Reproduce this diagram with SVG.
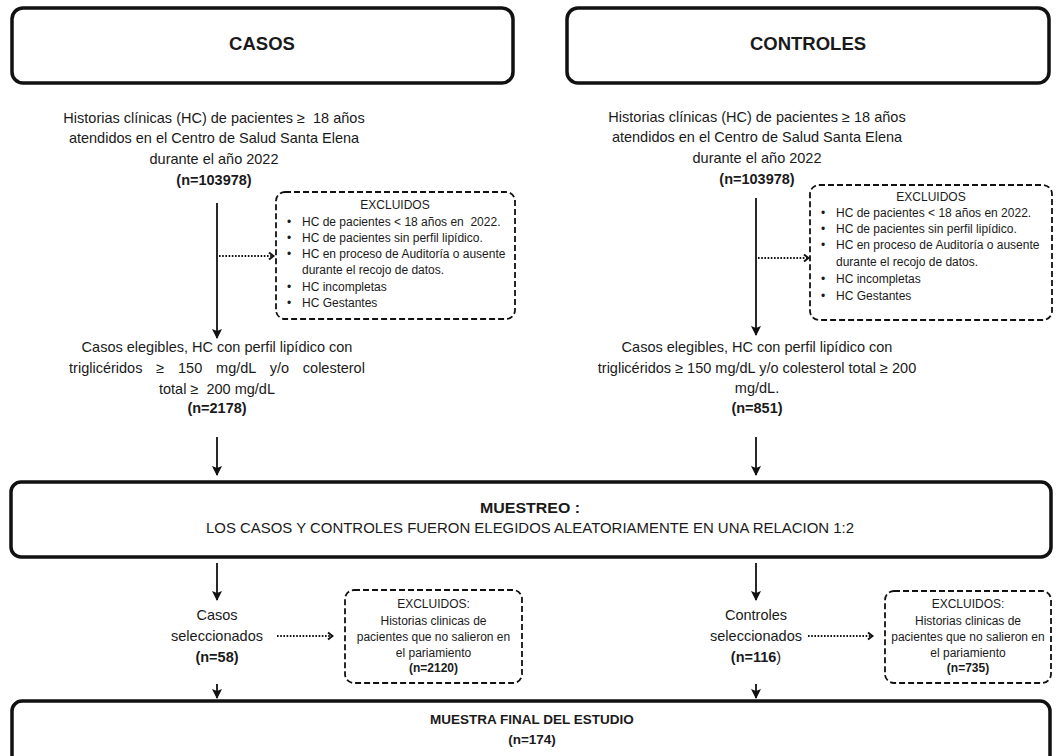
<svg xmlns="http://www.w3.org/2000/svg" width="1058" height="756" viewBox="0 0 1058 756">
<defs>
<style>
.t{font-family:"Liberation Sans",Arial,sans-serif;fill:#1a1a1a}
.m{font-size:14.5px;text-anchor:middle}
.b{font-weight:bold}
.s{font-size:12px}
.c{text-anchor:middle}
.box{fill:#fff;stroke:#111;stroke-width:3.5}
.dash{fill:#fff;stroke:#111;stroke-width:1.8;stroke-dasharray:6 3}
.ar{stroke:#111;stroke-width:1.8;fill:none}
.dot{stroke:#111;stroke-width:2;stroke-dasharray:1.6 1.6;fill:none}
</style>
<marker id="ah" markerUnits="userSpaceOnUse" markerWidth="10" markerHeight="12" viewBox="0 0 10 12" refX="9" refY="6" orient="auto">
<path d="M0,1 L10,6 L0,11 L2,6 z" fill="#111"/>
</marker>
<marker id="oh" markerUnits="userSpaceOnUse" markerWidth="8" markerHeight="10" viewBox="0 0 8 10" refX="7" refY="5" orient="auto">
<path d="M2,1.5 L6.5,5 L2,8.5" fill="none" stroke="#111" stroke-width="2"/>
</marker>
</defs>
<rect width="1058" height="756" fill="#fff"/>

<g id="connectors">
<line class="ar" x1="217" y1="203" x2="217" y2="338" marker-end="url(#ah)"/>
<line class="dot" x1="219" y1="256" x2="274" y2="256" marker-end="url(#oh)"/>
<line class="ar" x1="756" y1="198" x2="756" y2="335" marker-end="url(#ah)"/>
<line class="dot" x1="758" y1="258" x2="809" y2="258" marker-end="url(#oh)"/>
<line class="ar" x1="217" y1="437" x2="217" y2="475" marker-end="url(#ah)"/>
<line class="ar" x1="756" y1="437" x2="756" y2="475" marker-end="url(#ah)"/>
<line class="ar" x1="217" y1="563" x2="217" y2="600" marker-end="url(#ah)"/>
<line class="dot" x1="277" y1="636" x2="333" y2="636" marker-end="url(#oh)"/>
<line class="ar" x1="217" y1="684" x2="217" y2="698" marker-end="url(#ah)"/>
<line class="ar" x1="756" y1="563" x2="756" y2="600" marker-end="url(#ah)"/>
<line class="dot" x1="808" y1="636" x2="873" y2="636" marker-end="url(#oh)"/>
<line class="ar" x1="756" y1="684" x2="756" y2="698" marker-end="url(#ah)"/>
</g>

<g id="casos">
<rect class="box" x="12" y="8" width="501" height="75" rx="11"/>
<text class="t b c" x="262" y="50" font-size="18.5">CASOS</text>
</g>

<g id="controles">
<rect class="box" x="567" y="8" width="482" height="75" rx="11"/>
<text class="t b c" x="808" y="50" font-size="18.5">CONTROLES</text>
</g>

<g id="hc-casos">
<text class="t m" x="214" y="123" xml:space="preserve">Historias clínicas (HC) de pacientes ≥  18 años</text>
<text class="t m" x="214" y="143">atendidos en el Centro de Salud Santa Elena</text>
<text class="t m" x="214" y="164">durante el año 2022</text>
<text class="t m b" x="214" y="185">(n=103978)</text>
</g>

<g id="hc-controles">
<text class="t m" x="757" y="122">Historias clínicas (HC) de pacientes ≥ 18 años</text>
<text class="t m" x="757" y="142">atendidos en el Centro de Salud Santa Elena</text>
<text class="t m" x="757" y="163">durante el año 2022</text>
<text class="t m b" x="757" y="184">(n=103978)</text>
</g>

<g id="excl-casos">
<rect class="dash" x="276" y="192" width="239" height="127" rx="9"/>
<text class="t s c" x="395" y="209">EXCLUIDOS</text>
<g class="t s">
<text x="287" y="226">•</text><text x="302" y="226" xml:space="preserve">HC de pacientes &lt; 18 años en  2022.</text>
<text x="287" y="242">•</text><text x="302" y="242">HC de pacientes sin perfil lipídico.</text>
<text x="287" y="258">•</text><text x="302" y="258">HC en proceso de Auditoría o ausente</text>
<text x="302" y="274">durante el recojo de datos.</text>
<text x="287" y="291">•</text><text x="302" y="291">HC incompletas</text>
<text x="287" y="307">•</text><text x="302" y="307">HC Gestantes</text>
</g>
</g>

<g id="excl-controles">
<rect class="dash" x="810" y="185" width="242" height="135" rx="9"/>
<text class="t s c" x="931" y="201">EXCLUIDOS</text>
<g class="t s">
<text x="821" y="217">•</text><text x="836" y="217">HC de pacientes &lt; 18 años en 2022.</text>
<text x="821" y="233">•</text><text x="836" y="233">HC de pacientes sin perfil lipídico.</text>
<text x="821" y="249">•</text><text x="836" y="249">HC en proceso de Auditoría o ausente</text>
<text x="836" y="266">durante el recojo de datos.</text>
<text x="821" y="283">•</text><text x="836" y="283">HC incompletas</text>
<text x="821" y="300">•</text><text x="836" y="300">HC Gestantes</text>
</g>
</g>

<g id="elegibles-casos">
<text class="t m" x="217" y="352">Casos elegibles, HC con perfil lipídico con</text>
<text class="t m" x="217" y="373" word-spacing="9.8">triglicéridos ≥ 150 mg/dL y/o colesterol</text>
<text class="t m" x="217" y="394" xml:space="preserve">total ≥  200 mg/dL</text>
<text class="t m b" x="217" y="413">(n=2178)</text>
</g>

<g id="elegibles-controles">
<text class="t m" x="757" y="352">Casos elegibles, HC con perfil lipídico con</text>
<text class="t m" x="757" y="373">triglicéridos ≥ 150 mg/dL y/o colesterol total ≥ 200</text>
<text class="t m" x="757" y="393">mg/dL.</text>
<text class="t m b" x="757" y="413">(n=851)</text>
</g>

<g id="muestreo">
<rect class="box" x="11" y="482" width="1040" height="75" rx="10"/>
<text class="t b c" x="530" y="513" font-size="15" textLength="100" lengthAdjust="spacingAndGlyphs">MUESTREO :</text>
<text class="t c" x="530" y="533" font-size="15" textLength="648" lengthAdjust="spacingAndGlyphs">LOS CASOS Y CONTROLES FUERON ELEGIDOS ALEATORIAMENTE EN UNA RELACION 1:2</text>
</g>

<g id="sel-casos">
<text class="t m" x="217" y="620">Casos</text>
<text class="t m" x="217" y="641">seleccionados</text>
<text class="t m b" x="217" y="662">(n=58)</text>
</g>

<g id="excl-sel-casos">
<rect class="dash" x="345" y="590" width="177" height="93" rx="9"/>
<g class="t s c">
<text x="433.5" y="608">EXCLUIDOS:</text>
<text x="433.5" y="625">Historias clinicas de</text>
<text x="433.5" y="641">pacientes que no salieron en</text>
<text x="433.5" y="657">el pariamiento</text>
<text x="433.5" y="672" class="b">(n=2120)</text>
</g>
</g>

<g id="sel-controles">
<text class="t m" x="756" y="620">Controles</text>
<text class="t m" x="756" y="641">seleccionados</text>
<text class="t m" x="756" y="662"><tspan class="b">(n=116</tspan>)</text>
</g>

<g id="excl-sel-controles">
<rect class="dash" x="885" y="591" width="166" height="92" rx="9"/>
<g class="t s c">
<text x="968" y="608">EXCLUIDOS:</text>
<text x="968" y="625">Historias clinicas de</text>
<text x="968" y="641">pacientes que no salieron en</text>
<text x="968" y="657">el pariamiento</text>
<text x="968" y="672" class="b">(n=735)</text>
</g>
</g>

<g id="muestra-final">
<rect class="box" x="12" y="701" width="1038" height="90" rx="10"/>
<text class="t b c" x="532" y="724" font-size="13.5">MUESTRA FINAL DEL ESTUDIO</text>
<text class="t b c" x="532" y="744" font-size="13.5">(n=174)</text>
</g>
</svg>
